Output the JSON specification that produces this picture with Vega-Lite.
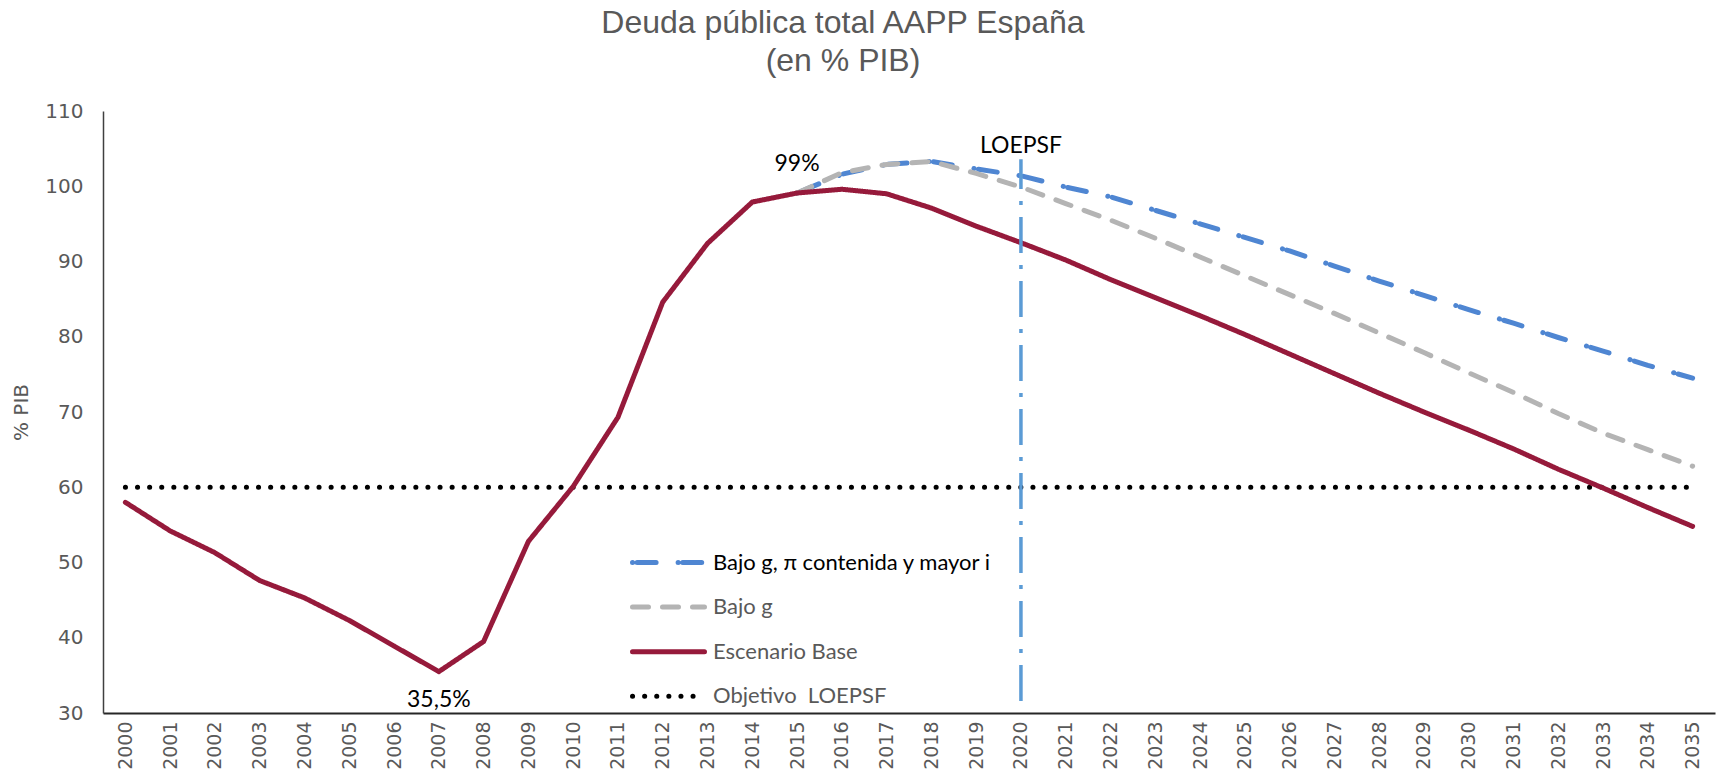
{
  "$schema": "https://vega.github.io/schema/vega-lite/v6.json",
  "autosize": {"type": "none"},
  "width": 1612,
  "height": 602,
  "padding": {"left": 103, "top": 111, "right": 8, "bottom": 65},
  "background": "white",
  "title": {
    "text": ["Deuda pública total AAPP España", "(en % PIB)"],
    "font": "Liberation Sans",
    "fontSize": 32,
    "fontWeight": "normal",
    "color": "#595959",
    "anchor": "middle",
    "dx": -66,
    "offset": 23,
    "lineHeight": 38
  },
  "config": {"view": {"stroke": null}},
  "layer": [
    {
      "data": {
        "values": [
          {"year": 2000, "serie": "Objetivo  LOEPSF", "value": 60},
          {"year": 2001, "serie": "Objetivo  LOEPSF", "value": 60},
          {"year": 2002, "serie": "Objetivo  LOEPSF", "value": 60},
          {"year": 2003, "serie": "Objetivo  LOEPSF", "value": 60},
          {"year": 2004, "serie": "Objetivo  LOEPSF", "value": 60},
          {"year": 2005, "serie": "Objetivo  LOEPSF", "value": 60},
          {"year": 2006, "serie": "Objetivo  LOEPSF", "value": 60},
          {"year": 2007, "serie": "Objetivo  LOEPSF", "value": 60},
          {"year": 2008, "serie": "Objetivo  LOEPSF", "value": 60},
          {"year": 2009, "serie": "Objetivo  LOEPSF", "value": 60},
          {"year": 2010, "serie": "Objetivo  LOEPSF", "value": 60},
          {"year": 2011, "serie": "Objetivo  LOEPSF", "value": 60},
          {"year": 2012, "serie": "Objetivo  LOEPSF", "value": 60},
          {"year": 2013, "serie": "Objetivo  LOEPSF", "value": 60},
          {"year": 2014, "serie": "Objetivo  LOEPSF", "value": 60},
          {"year": 2015, "serie": "Objetivo  LOEPSF", "value": 60},
          {"year": 2016, "serie": "Objetivo  LOEPSF", "value": 60},
          {"year": 2017, "serie": "Objetivo  LOEPSF", "value": 60},
          {"year": 2018, "serie": "Objetivo  LOEPSF", "value": 60},
          {"year": 2019, "serie": "Objetivo  LOEPSF", "value": 60},
          {"year": 2020, "serie": "Objetivo  LOEPSF", "value": 60},
          {"year": 2021, "serie": "Objetivo  LOEPSF", "value": 60},
          {"year": 2022, "serie": "Objetivo  LOEPSF", "value": 60},
          {"year": 2023, "serie": "Objetivo  LOEPSF", "value": 60},
          {"year": 2024, "serie": "Objetivo  LOEPSF", "value": 60},
          {"year": 2025, "serie": "Objetivo  LOEPSF", "value": 60},
          {"year": 2026, "serie": "Objetivo  LOEPSF", "value": 60},
          {"year": 2027, "serie": "Objetivo  LOEPSF", "value": 60},
          {"year": 2028, "serie": "Objetivo  LOEPSF", "value": 60},
          {"year": 2029, "serie": "Objetivo  LOEPSF", "value": 60},
          {"year": 2030, "serie": "Objetivo  LOEPSF", "value": 60},
          {"year": 2031, "serie": "Objetivo  LOEPSF", "value": 60},
          {"year": 2032, "serie": "Objetivo  LOEPSF", "value": 60},
          {"year": 2033, "serie": "Objetivo  LOEPSF", "value": 60},
          {"year": 2034, "serie": "Objetivo  LOEPSF", "value": 60},
          {"year": 2035, "serie": "Objetivo  LOEPSF", "value": 60},
          {"year": 2015, "serie": "Bajo g, π contenida y mayor i", "value": 99.1},
          {"year": 2016, "serie": "Bajo g, π contenida y mayor i", "value": 101.6},
          {"year": 2017, "serie": "Bajo g, π contenida y mayor i", "value": 102.9},
          {"year": 2018, "serie": "Bajo g, π contenida y mayor i", "value": 103.3},
          {"year": 2019, "serie": "Bajo g, π contenida y mayor i", "value": 102.3},
          {"year": 2020, "serie": "Bajo g, π contenida y mayor i", "value": 101.4},
          {"year": 2021, "serie": "Bajo g, π contenida y mayor i", "value": 99.9},
          {"year": 2022, "serie": "Bajo g, π contenida y mayor i", "value": 98.6},
          {"year": 2023, "serie": "Bajo g, π contenida y mayor i", "value": 96.8},
          {"year": 2024, "serie": "Bajo g, π contenida y mayor i", "value": 95.0},
          {"year": 2025, "serie": "Bajo g, π contenida y mayor i", "value": 93.2},
          {"year": 2026, "serie": "Bajo g, π contenida y mayor i", "value": 91.4},
          {"year": 2027, "serie": "Bajo g, π contenida y mayor i", "value": 89.4},
          {"year": 2028, "serie": "Bajo g, π contenida y mayor i", "value": 87.4},
          {"year": 2029, "serie": "Bajo g, π contenida y mayor i", "value": 85.5},
          {"year": 2030, "serie": "Bajo g, π contenida y mayor i", "value": 83.6},
          {"year": 2031, "serie": "Bajo g, π contenida y mayor i", "value": 81.8},
          {"year": 2032, "serie": "Bajo g, π contenida y mayor i", "value": 79.9},
          {"year": 2033, "serie": "Bajo g, π contenida y mayor i", "value": 78.1},
          {"year": 2034, "serie": "Bajo g, π contenida y mayor i", "value": 76.2},
          {"year": 2035, "serie": "Bajo g, π contenida y mayor i", "value": 74.5},
          {"year": 2015, "serie": "Bajo g", "value": 99.1},
          {"year": 2016, "serie": "Bajo g", "value": 101.8},
          {"year": 2017, "serie": "Bajo g", "value": 102.9},
          {"year": 2018, "serie": "Bajo g", "value": 103.3},
          {"year": 2019, "serie": "Bajo g", "value": 101.7},
          {"year": 2020, "serie": "Bajo g", "value": 99.9},
          {"year": 2021, "serie": "Bajo g", "value": 97.7},
          {"year": 2022, "serie": "Bajo g", "value": 95.5},
          {"year": 2023, "serie": "Bajo g", "value": 93.1},
          {"year": 2024, "serie": "Bajo g", "value": 90.6},
          {"year": 2025, "serie": "Bajo g", "value": 88.1},
          {"year": 2026, "serie": "Bajo g", "value": 85.6},
          {"year": 2027, "serie": "Bajo g", "value": 83.1},
          {"year": 2028, "serie": "Bajo g", "value": 80.5},
          {"year": 2029, "serie": "Bajo g", "value": 77.9},
          {"year": 2030, "serie": "Bajo g", "value": 75.2},
          {"year": 2031, "serie": "Bajo g", "value": 72.6},
          {"year": 2032, "serie": "Bajo g", "value": 69.8},
          {"year": 2033, "serie": "Bajo g", "value": 67.2},
          {"year": 2034, "serie": "Bajo g", "value": 65.0},
          {"year": 2035, "serie": "Bajo g", "value": 62.8},
          {"year": 2000, "serie": "Escenario Base", "value": 58.0},
          {"year": 2001, "serie": "Escenario Base", "value": 54.2},
          {"year": 2002, "serie": "Escenario Base", "value": 51.3},
          {"year": 2003, "serie": "Escenario Base", "value": 47.6},
          {"year": 2004, "serie": "Escenario Base", "value": 45.3},
          {"year": 2005, "serie": "Escenario Base", "value": 42.3},
          {"year": 2006, "serie": "Escenario Base", "value": 38.9},
          {"year": 2007, "serie": "Escenario Base", "value": 35.5},
          {"year": 2008, "serie": "Escenario Base", "value": 39.5},
          {"year": 2009, "serie": "Escenario Base", "value": 52.8},
          {"year": 2010, "serie": "Escenario Base", "value": 60.1},
          {"year": 2011, "serie": "Escenario Base", "value": 69.3},
          {"year": 2012, "serie": "Escenario Base", "value": 84.6},
          {"year": 2013, "serie": "Escenario Base", "value": 92.4},
          {"year": 2014, "serie": "Escenario Base", "value": 97.9},
          {"year": 2015, "serie": "Escenario Base", "value": 99.1},
          {"year": 2016, "serie": "Escenario Base", "value": 99.6},
          {"year": 2017, "serie": "Escenario Base", "value": 99.0},
          {"year": 2018, "serie": "Escenario Base", "value": 97.1},
          {"year": 2019, "serie": "Escenario Base", "value": 94.7},
          {"year": 2020, "serie": "Escenario Base", "value": 92.5},
          {"year": 2021, "serie": "Escenario Base", "value": 90.2},
          {"year": 2022, "serie": "Escenario Base", "value": 87.6},
          {"year": 2023, "serie": "Escenario Base", "value": 85.2},
          {"year": 2024, "serie": "Escenario Base", "value": 82.8},
          {"year": 2025, "serie": "Escenario Base", "value": 80.3},
          {"year": 2026, "serie": "Escenario Base", "value": 77.7},
          {"year": 2027, "serie": "Escenario Base", "value": 75.1},
          {"year": 2028, "serie": "Escenario Base", "value": 72.5},
          {"year": 2029, "serie": "Escenario Base", "value": 70.0},
          {"year": 2030, "serie": "Escenario Base", "value": 67.6},
          {"year": 2031, "serie": "Escenario Base", "value": 65.1},
          {"year": 2032, "serie": "Escenario Base", "value": 62.4},
          {"year": 2033, "serie": "Escenario Base", "value": 59.9},
          {"year": 2034, "serie": "Escenario Base", "value": 57.3},
          {"year": 2035, "serie": "Escenario Base", "value": 54.8}
        ]
      },
      "mark": {"type": "line", "strokeWidth": 5, "strokeCap": "round", "strokeJoin": "round"},
      "encoding": {
        "x": {
          "field": "year",
          "type": "ordinal",
          "scale": {"type": "point", "padding": 0.5},
          "axis": {
            "title": null,
            "labelAngle": -90,
            "ticks": false,
            "grid": false,
            "domainColor": "#262626",
            "domainWidth": 2,
            "labelFont": "DejaVu Sans",
            "labelFontSize": 19,
            "labelColor": "#595959",
            "labelPadding": 8
          }
        },
        "y": {
          "field": "value",
          "type": "quantitative",
          "scale": {"domain": [30, 110], "nice": false, "zero": false},
          "axis": {
            "values": [30, 40, 50, 60, 70, 80, 90, 100, 110],
            "title": "% PIB",
            "titleFont": "DejaVu Sans",
            "titleFontSize": 20,
            "titleFontWeight": "normal",
            "titleColor": "#595959",
            "titlePadding": 13,
            "ticks": false,
            "grid": false,
            "labelFont": "DejaVu Sans",
            "labelFontSize": 20,
            "labelColor": "#595959",
            "labelPadding": 20,
            "domainColor": "#404040",
            "domainWidth": 1.5
          }
        },
        "color": {
          "field": "serie",
          "type": "nominal",
          "scale": {
            "domain": ["Bajo g, π contenida y mayor i", "Bajo g", "Escenario Base", "Objetivo  LOEPSF"],
            "range": ["#4F86D2", "#B4B4B4", "#961A3B", "#000000"]
          },
          "legend": {
            "title": null,
            "orient": "none",
            "legendX": 551,
            "legendY": 437,
            "padding": 0,
            "symbolType": "M-3,0H3",
            "symbolSize": 576,
            "symbolStrokeWidth": 5,
            "labelOffset": 30,
            "labelFont": "Lato",
            "labelFontSize": 22,
            "labelLimit": 500,
            "rowPadding": 18.6,
            "labelExpr": "datum.label === 'Objetivo  LOEPSF' ? 'Objetivo \u00a0LOEPSF' : datum.label",
            "encode": {
              "labels": {"update": {"fill": [{"test": "datum.value === 'Bajo g, π contenida y mayor i'", "value": "#000000"}, {"value": "#595959"}]}},
              "symbols": {"update": {"strokeCap": {"value": "round"}}}
            }
          }
        },
        "strokeDash": {
          "field": "serie",
          "type": "nominal",
          "scale": {
            "domain": ["Bajo g, π contenida y mayor i", "Bajo g", "Escenario Base", "Objetivo  LOEPSF"],
            "range": [[0.1, 4.5, 19, 22], [16, 14], [1, 0], [0.1, 12]]
          },
          "legend": {
            "title": null,
            "orient": "none",
            "legendX": 551,
            "legendY": 437,
            "padding": 0,
            "symbolType": "M-3,0H3",
            "symbolSize": 576,
            "symbolStrokeWidth": 5,
            "labelOffset": 30,
            "labelFont": "Lato",
            "labelFontSize": 22,
            "labelLimit": 500,
            "rowPadding": 18.6,
            "labelExpr": "datum.label === 'Objetivo  LOEPSF' ? 'Objetivo \u00a0LOEPSF' : datum.label",
            "encode": {
              "labels": {"update": {"fill": [{"test": "datum.value === 'Bajo g, π contenida y mayor i'", "value": "#000000"}, {"value": "#595959"}]}},
              "symbols": {"update": {"strokeCap": {"value": "round"}}}
            }
          }
        }
      }
    },
    {
      "data": {"values": [{"year": 2020, "y": 31.6, "y2": 103.6}]},
      "mark": {"type": "rule", "color": "#5B9BD5", "strokeWidth": 3.5, "strokeDash": [36, 12, 4, 12]},
      "encoding": {
        "x": {"field": "year", "type": "ordinal"},
        "y": {"field": "y", "type": "quantitative"},
        "y2": {"field": "y2"}
      }
    },
    {
      "data": {
        "values": [
          {"year": 2015, "value": 103.0, "label": "99%"},
          {"year": 2007, "value": 31.7, "label": "35,5%"},
          {"year": 2020, "value": 105.3, "label": "LOEPSF"}
        ]
      },
      "mark": {"type": "text", "font": "Lato", "fontSize": 23, "color": "#000000", "baseline": "middle"},
      "encoding": {
        "x": {"field": "year", "type": "ordinal"},
        "y": {"field": "value", "type": "quantitative"},
        "text": {"field": "label"}
      }
    }
  ]
}
